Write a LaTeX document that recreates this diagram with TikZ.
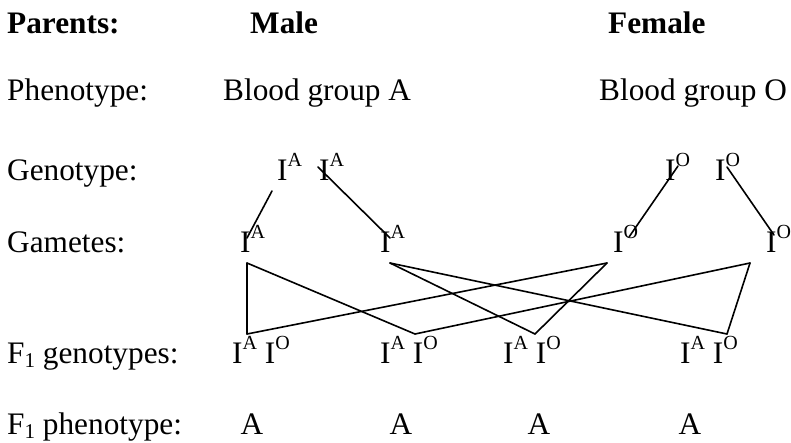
\documentclass[tikz,border=0pt]{standalone}
\usepackage{fontspec}
\setmainfont{Liberation Serif}
\newcommand{\allele}[1]{I\raisebox{14pt}{\fontsize{20}{20}\selectfont #1}}
\newcommand{\fone}{F\raisebox{-4pt}{\fontsize{21}{21}\selectfont 1}}

\begin{document}
\begin{tikzpicture}[x=1pt, y=-1pt, font=\fontsize{31.3}{38}\selectfont,
  txt/.style={anchor=base west, inner sep=0pt},
  cross/.style={line width=1.6pt, line cap=round, line join=round}]

\useasboundingbox (0,0) rectangle (791,442);

% Row labels
\node[txt] (parents) at (7,33) {\textbf{Parents:}};
\node[txt] (pheno) at (7,100) {Phenotype:};
\node[txt] (geno) at (7,180) {Genotype:};
\node[txt] (gam) at (7,252) {Gametes:};
\node[txt] (fgeno) at (7,363) {\fone{} genotypes:};
\node[txt] (fpheno) at (7,434) {\fone{} phenotype:};

% Parents
\node[txt] (male) at (250,33) {\textbf{Male}};
\node[txt] (female) at (608,33) {\textbf{Female}};
\node[txt] (bgA) at (223,100) {Blood group A};
\node[txt] (bgO) at (599,100) {Blood group O};

% Genotypes
\node[txt] (gm1) at (277,180) {\allele{A}};
\node[txt] (gm2) at (319,180) {\allele{A}};
\node[txt] (gf1) at (665,180) {\allele{O}};
\node[txt] (gf2) at (715,180) {\allele{O}};

% Gametes
\node[txt] (ga1) at (240,252) {\allele{A}};
\node[txt] (ga2) at (380,252) {\allele{A}};
\node[txt] (ga3) at (613,252) {\allele{O}};
\node[txt] (ga4) at (766,252) {\allele{O}};

% F1 genotypes
\node[txt] (f1) at (232,363) {\allele{A} \allele{O}};
\node[txt] (f2) at (380,363) {\allele{A} \allele{O}};
\node[txt] (f3) at (503,363) {\allele{A} \allele{O}};
\node[txt] (f4) at (680,363) {\allele{A} \allele{O}};

% F1 phenotypes
\foreach \i/\x in {1/252, 2/401, 3/539, 4/690}
  \node[anchor=base, inner sep=0pt] (p\i) at (\x,434) {A};

% Genotype to gametes
\draw[cross] ([shift={(-5,11)}]gm1.base west) -- ([shift={(7,-14)}]ga1.base west);
\draw[cross] ([shift={(-1,-13)}]gm2.base west) -- ([shift={(10,-14)}]ga2.base west);
\draw[cross] ([shift={(13,-14)}]gf1.base west) -- ([shift={(16,-15)}]ga3.base west);
\draw[cross] ([shift={(12,-13)}]gf2.base west) -- ([shift={(8,-17)}]ga4.base west);

% Fertilisation lines
\coordinate (ga1-out) at ([shift={(7,11)}]ga1.base west);
\coordinate (ga2-out) at ([shift={(10,11)}]ga2.base west);
\coordinate (ga3-out) at ([shift={(-6,11)}]ga3.base west);
\coordinate (ga4-out) at ([shift={(-16,11)}]ga4.base west);
\coordinate (f1-in) at ([shift={(15,-29)}]f1.base west);
\coordinate (f2-in) at ([shift={(35,-29)}]f2.base west);
\coordinate (f3-in) at ([shift={(32,-29)}]f3.base west);
\coordinate (f4-in) at ([shift={(47,-29)}]f4.base west);
\foreach \a/\b in {1/1, 1/2, 2/3, 2/4, 3/1, 3/3, 4/2, 4/4}
  \draw[cross] (ga\a-out) -- (f\b-in);

\end{tikzpicture}
\end{document}
